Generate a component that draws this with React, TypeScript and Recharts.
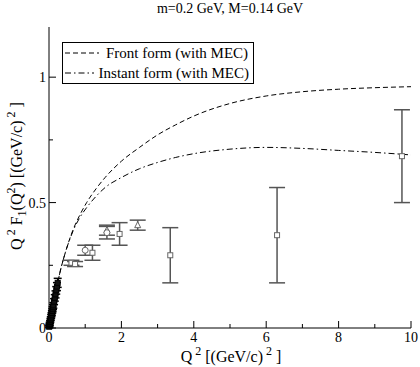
import {
  ComposedChart,
  Line,
  Scatter,
  ErrorBar,
  XAxis,
  YAxis,
  Legend,
} from "recharts";

const curveQ2 = [0, 0.1, 0.2, 0.3, 0.45, 0.66, 0.85, 1.04, 1.3, 1.55, 2, 2.5, 3, 3.5, 4, 5, 6, 7, 8, 9, 10];
const frontForm = [0, 0.075, 0.15, 0.22, 0.3, 0.39, 0.45, 0.5, 0.555, 0.6, 0.665, 0.72, 0.77, 0.81, 0.845, 0.895, 0.925, 0.942, 0.952, 0.958, 0.962];
const instantForm = [0, 0.075, 0.15, 0.22, 0.3, 0.385, 0.44, 0.48, 0.525, 0.56, 0.6, 0.635, 0.66, 0.68, 0.695, 0.713, 0.72, 0.716, 0.708, 0.7, 0.69];

// low Q^2 cluster
const lowQ2 = [0.005, 0.01, 0.015, 0.02, 0.03, 0.04, 0.05, 0.06, 0.07, 0.08, 0.09, 0.1, 0.11, 0.12, 0.14, 0.16, 0.18, 0.2, 0.22, 0.24];
const lowF = [0.005, 0.009, 0.013, 0.017, 0.024, 0.031, 0.038, 0.046, 0.053, 0.06, 0.068, 0.075, 0.083, 0.09, 0.105, 0.12, 0.134, 0.15, 0.165, 0.18];
const lowErr = [0.004, 0.005, 0.005, 0.006, 0.006, 0.007, 0.007, 0.008, 0.008, 0.009, 0.009, 0.01, 0.01, 0.011, 0.012, 0.013, 0.014, 0.015, 0.016, 0.018];

const squareQ2 = [0.62, 0.72, 1.2, 1.95, 3.35, 6.3, 9.75];
const squareF = [0.26, 0.255, 0.3, 0.375, 0.29, 0.37, 0.685];
const squareErr = [0.01, 0.01, 0.03, 0.045, 0.11, 0.19, 0.185];

const triangleQ2 = [1.6, 2.45];
const triangleF = [0.39, 0.41];
const triangleErr = [0.02, 0.02];

const circleQ2 = [1.0, 1.6];
const circleF = [0.31, 0.38];
const circleErr = [0.02, 0.025];

const xTicks = [0, 1, 2, 3, 4, 5, 6, 7, 8, 9, 10];
const yTicks = [0, 0.25, 0.5, 0.75, 1];

const curveData = curveQ2.map((q, i) => ({ q2: q, front: frontForm[i], instant: instantForm[i] }));
const toPoints = (q: number[], f: number[], e: number[]) =>
  q.map((v, i) => ({ q2: v, f: f[i], err: e[i] }));

const serif = "'Liberation Serif', 'DejaVu Serif', serif";
const FRONT_DASH = "5 3";
const INSTANT_DASH = "6 3 1.5 3";

const isMajorX = (v: number) => v % 2 === 0;
const isMajorY = (v: number) => Math.abs(v * 2 - Math.round(v * 2)) < 1e-6;

function BottomTick({ x, y, payload }: any) {
  const major = isMajorX(payload.value);
  return (
    <g>
      <line x1={x} x2={x} y1={y} y2={y - (major ? 7 : 4)} stroke="#000" />
      {major && (
        <text x={x} y={y + 14} textAnchor="middle" fontSize={14} fontFamily={serif} fill="#000">
          {payload.value}
        </text>
      )}
    </g>
  );
}

function TopTick({ x, y, payload }: any) {
  const major = isMajorX(payload.value);
  return <line x1={x} x2={x} y1={y} y2={y + (major ? 7 : 4)} stroke="#000" />;
}

function LeftTick({ x, y, payload }: any) {
  const major = isMajorY(payload.value);
  return (
    <g>
      <line x1={x} x2={x + (major ? 7 : 4)} y1={y} y2={y} stroke="#000" />
      {major && (
        <text x={x - 3} y={y + 5} textAnchor="end" fontSize={14} fontFamily={serif} fill="#000">
          {payload.value}
        </text>
      )}
    </g>
  );
}

function RightTick({ x, y, payload }: any) {
  const major = isMajorY(payload.value);
  return <line x1={x} x2={x - (major ? 7 : 4)} y1={y} y2={y} stroke="#000" />;
}

const Square = ({ cx, cy }: any) => (
  <rect x={cx - 2.5} y={cy - 2.5} width={5} height={5} fill="#fff" stroke="#666" strokeWidth={1} />
);
const Triangle = ({ cx, cy }: any) => (
  <polygon points={`${cx},${cy - 3.5} ${cx + 3},${cy + 2.5} ${cx - 3},${cy + 2.5}`} fill="#fff" stroke="#666" />
);
const Circle = ({ cx, cy }: any) => <circle cx={cx} cy={cy} r={3} fill="#fff" stroke="#666" />;
const Dark = ({ cx, cy }: any) => (
  <rect x={cx - 2.5} y={cy - 2.5} width={5} height={5} fill="#111" stroke="#000" />
);

function LegendBox() {
  const row = (dash: string, label: string) => (
    <div style={{ display: "flex", alignItems: "center", height: 20 }}>
      <svg width={38} height={10}>
        <line x1={2} x2={36} y1={5} y2={5} stroke="#000" strokeDasharray={dash} />
      </svg>
      <span style={{ marginLeft: 5, fontSize: 15, fontFamily: serif, whiteSpace: "nowrap" }}>{label}</span>
    </div>
  );
  return (
    <div style={{ border: "1px solid #000", background: "#fff", padding: "0px 4px 0px 0px", width: 186 }}>
      {row(FRONT_DASH, "Front form (with MEC)")}
      {row(INSTANT_DASH, "Instant form (with MEC)")}
    </div>
  );
}

export default function App() {
  return (
    <div style={{ position: "absolute", left: 0, top: 0, width: 420, height: 367, background: "#fff" }}>
      <svg style={{ position: "absolute", left: 0, top: 0, pointerEvents: "none" }} width={420} height={367}>
        <text x={230} y={13} textAnchor="middle" fontSize={14} fontFamily={serif}>
          m=0.2 GeV, M=0.14 GeV
        </text>
        <text x={231} y={362} textAnchor="middle" fontSize={16} fontFamily={serif}>
          Q
          <tspan dy={-7} fontSize={12}> 2</tspan>
          <tspan dy={7}> [(GeV/c)</tspan>
          <tspan dy={-7} fontSize={12}> 2</tspan>
          <tspan dy={7}> ]</tspan>
        </text>
        <text
          x={0}
          y={0}
          transform="translate(22,176) rotate(-90)"
          textAnchor="middle"
          fontSize={16}
          fontFamily={serif}
        >
          Q
          <tspan dy={-7} fontSize={12}> 2</tspan>
          <tspan dy={7}> F</tspan>
          <tspan dy={4} fontSize={12}>1</tspan>
          <tspan dy={-4}>(Q</tspan>
          <tspan dy={-7} fontSize={12}>2</tspan>
          <tspan dy={7}>) [(GeV/c)</tspan>
          <tspan dy={-7} fontSize={12}> 2</tspan>
          <tspan dy={7}> ]</tspan>
        </text>
      </svg>
      <ComposedChart
        width={420}
        height={367}
        data={curveData}
        margin={{ top: 27, right: 9, bottom: 0, left: 0 }}
      >
        <XAxis
          type="number"
          dataKey="q2"
          domain={[0, 10]}
          ticks={xTicks}
          interval={0}
          height={39}
          tickSize={0}
          tickMargin={0}
          tickLine={false}
          tick={BottomTick}
          axisLine={{ stroke: "#000" }}
        />
        <XAxis
          xAxisId="top"
          orientation="top"
          type="number"
          dataKey="q2"
          domain={[0, 10]}
          ticks={xTicks}
          interval={0}
          height={0}
          tickSize={0}
          tickMargin={0}
          tickLine={false}
          tick={TopTick}
          axisLine={{ stroke: "#000" }}
        />
        <YAxis
          type="number"
          domain={[0, 1.2]}
          ticks={yTicks}
          interval={0}
          width={49}
          tickSize={0}
          tickMargin={0}
          tickLine={false}
          tick={LeftTick}
          axisLine={{ stroke: "#000" }}
        />
        <YAxis
          yAxisId="right"
          orientation="right"
          type="number"
          domain={[0, 1.2]}
          ticks={yTicks}
          interval={0}
          width={0}
          tickSize={0}
          tickMargin={0}
          tickLine={false}
          tick={RightTick}
          axisLine={{ stroke: "#000" }}
        />
        <Legend
          layout="vertical"
          align="center"
          verticalAlign="middle"
          wrapperStyle={{ left: 62, top: 42, width: 192 }}
          content={() => <LegendBox />}
        />
        <Line
          dataKey="front"
          type="monotone"
          stroke="#000"
          strokeWidth={1}
          strokeDasharray={FRONT_DASH}
          dot={false}
          isAnimationActive={false}
        />
        <Line
          dataKey="instant"
          type="monotone"
          stroke="#000"
          strokeWidth={1}
          strokeDasharray={INSTANT_DASH}
          dot={false}
          isAnimationActive={false}
        />
        <Scatter data={toPoints(lowQ2, lowF, lowErr)} dataKey="f" shape={Dark} isAnimationActive={false}>
          <ErrorBar dataKey="err" direction="y" width={4} stroke="#000" isAnimationActive={false} />
        </Scatter>
        <Scatter data={toPoints(squareQ2, squareF, squareErr)} dataKey="f" shape={Square} isAnimationActive={false}>
          <ErrorBar dataKey="err" direction="y" width={8} stroke="#555" isAnimationActive={false} />
        </Scatter>
        <Scatter data={toPoints(triangleQ2, triangleF, triangleErr)} dataKey="f" shape={Triangle} isAnimationActive={false}>
          <ErrorBar dataKey="err" direction="y" width={8} stroke="#555" isAnimationActive={false} />
        </Scatter>
        <Scatter data={toPoints(circleQ2, circleF, circleErr)} dataKey="f" shape={Circle} isAnimationActive={false}>
          <ErrorBar dataKey="err" direction="y" width={8} stroke="#555" isAnimationActive={false} />
        </Scatter>
      </ComposedChart>
    </div>
  );
}
